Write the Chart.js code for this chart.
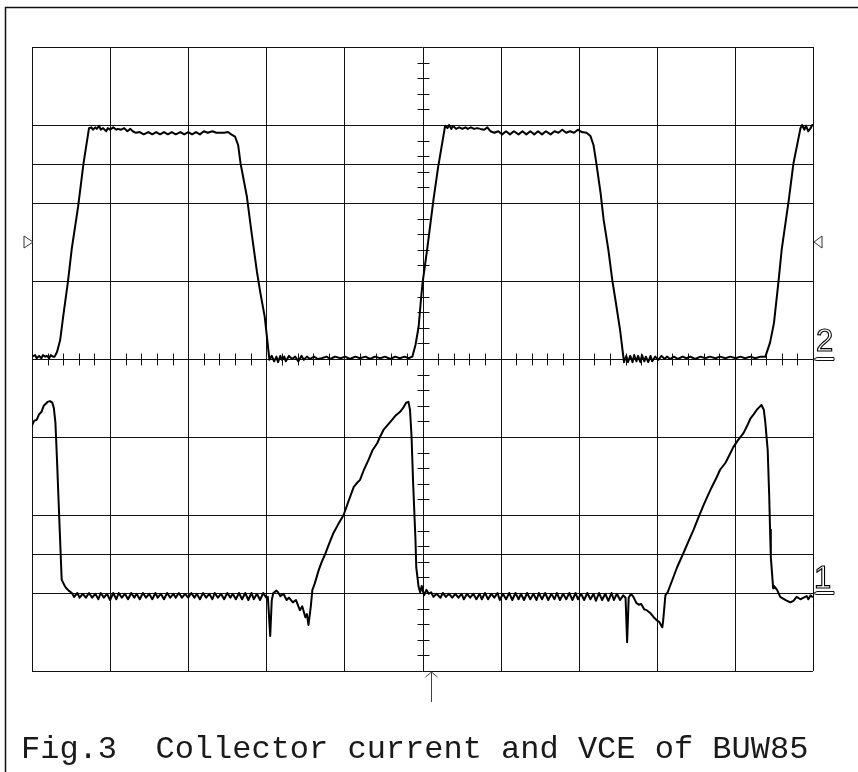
<!DOCTYPE html>
<html>
<head>
<meta charset="utf-8">
<title>Fig.3 Collector current and VCE of BUW85</title>
<script src="https://cdn.jsdelivr.net/npm/chart.js@4"></script>
<style>
  html, body { margin: 0; padding: 0; background: #fff; }
  #wrap { position: relative; width: 858px; height: 772px; overflow: hidden; }
  #scope { position: absolute; left: 0; top: 0; }
  .chan { position: absolute; font-family: "Liberation Sans", Arial, sans-serif; font-size: 31px;
          line-height: 30px; color: transparent; -webkit-text-stroke: 1.1px #000; }
  #caption { position: absolute; left: 21px; top: 734px; font-family: "Liberation Mono", "DejaVu Sans Mono", monospace;
             font-size: 32px; line-height: 32px; color: #1a1a1a; white-space: pre; }
</style>
</head>
<body>
<div id="wrap">
  <canvas id="scope" width="858" height="772"></canvas>
  <span class="chan" style="left:816px; top:326px;">2</span>
  <span class="chan" style="left:814px; top:563px;">1</span>
  <div id="caption">Fig.3  Collector current and VCE of BUW85</div>
</div>
<script>
/*            screen: 10 x 8 divisions            */

const vLines = [0, 1, 2, 3, 4, 5, 6, 7, 8, 9, 10];
const hLines = [0, 1, 1.5, 2, 3, 4, 5, 6, 6.5, 7, 8];
const centerX = 5;
const centerY = 4;
const minorStep = 0.2;
const trigLevel = 5.5;     // the two little triangles
const trigTime = 5.11;     // the arrow under the screen
const ch1Ground = 1.0;
const ch2Ground = 4.0;

/*            channel 2 (collector current)            */

const ch2Time = [
  0.00, 0.04, 0.06, 0.09, 0.12, 0.14, 0.17, 0.19, 0.22, 0.24, 0.27, 0.29,
  0.32, 0.36, 0.40, 0.46, 0.51, 0.59, 0.66, 0.73,
  0.76, 0.78, 0.81, 0.83, 0.86, 0.88, 0.91, 0.95, 0.97, 1.00,
  1.04, 1.08, 1.10, 1.14, 1.18, 1.22, 1.26, 1.29, 1.33, 1.38,
  1.43, 1.49, 1.54, 1.59, 1.64, 1.69, 1.74, 1.79, 1.84, 1.90,
  1.95, 2.00, 2.05, 2.10, 2.15, 2.20, 2.25, 2.31, 2.36, 2.41,
  2.46, 2.51, 2.55,
  2.60, 2.64, 2.67, 2.75, 2.81, 2.88, 2.92, 2.98, 3.04,
  3.07, 3.10, 3.13, 3.15, 3.18, 3.20, 3.23, 3.25, 3.29, 3.33,
  3.37, 3.41, 3.45, 3.48, 3.52, 3.56, 3.61, 3.66, 3.71, 3.77,
  3.82, 3.88, 3.95, 4.01, 4.07, 4.14, 4.20, 4.27, 4.33, 4.39,
  4.46, 4.52, 4.59, 4.65, 4.71, 4.77, 4.82, 4.87,
  4.91, 4.95, 4.98, 5.00, 5.06, 5.14, 5.20, 5.29,
  5.32, 5.34, 5.37, 5.39, 5.43, 5.47, 5.51, 5.55, 5.58, 5.62,
  5.66, 5.70, 5.74, 5.79, 5.83, 5.87, 5.92, 5.97, 6.02, 6.07,
  6.12, 6.17, 6.23, 6.28, 6.33, 6.38, 6.43, 6.48, 6.53, 6.58,
  6.64, 6.69, 6.74, 6.79, 6.84, 6.89, 6.94, 6.99, 7.04, 7.10,
  7.15, 7.19, 7.22, 7.28, 7.32, 7.38, 7.43, 7.47, 7.53, 7.58,
  7.61, 7.63, 7.66, 7.69, 7.71, 7.74, 7.76, 7.79, 7.81, 7.84,
  7.86, 7.89, 7.92, 7.94, 7.98, 8.02, 8.06, 8.10, 8.13, 8.17,
  8.22, 8.27, 8.33, 8.38, 8.43, 8.49, 8.56, 8.62, 8.68, 8.75,
  8.81, 8.88, 8.94, 9.01, 9.07, 9.13, 9.20, 9.26, 9.33, 9.39,
  9.45, 9.50, 9.56, 9.60, 9.69, 9.75, 9.84, 9.86, 9.89, 9.91, 9.94, 9.97, 9.99
];
const ch2Level = [
  4.03, 4.05, 4.01, 4.04, 4.01, 4.05, 4.03, 4.04, 4.01, 4.05, 4.03, 4.03,
  4.09, 4.24, 4.55, 4.99, 5.42, 5.95, 6.51, 6.96,
  6.97, 6.94, 6.97, 6.95, 6.99, 6.94, 6.96, 6.92, 6.96, 6.94,
  6.97, 6.94, 6.95, 6.94, 6.96, 6.92, 6.95, 6.92, 6.90, 6.91,
  6.88, 6.91, 6.88, 6.91, 6.88, 6.91, 6.88, 6.91, 6.88, 6.91,
  6.88, 6.91, 6.88, 6.91, 6.88, 6.92, 6.90, 6.92, 6.90, 6.90,
  6.90, 6.91, 6.88,
  6.85, 6.74, 6.51, 6.09, 5.63, 5.12, 4.87, 4.54, 3.99,
  4.04, 3.97, 4.03, 3.96, 4.04, 3.99, 4.03, 3.97, 4.04, 4.00,
  4.03, 3.97, 4.04, 3.99, 4.03, 4.00, 4.03, 4.00, 4.01, 4.03,
  4.00, 4.03, 4.01, 4.03, 4.00, 4.03, 4.01, 4.03, 4.00, 4.03,
  4.01, 4.03, 4.00, 4.03, 4.01, 4.03, 4.01, 4.03,
  4.18, 4.41, 4.76, 4.97, 5.41, 6.04, 6.46, 6.99,
  6.96, 7.00, 6.95, 6.99, 6.95, 6.97, 6.95, 6.97, 6.95, 6.97,
  6.95, 6.96, 6.95, 6.94, 6.97, 6.92, 6.90, 6.92, 6.88, 6.92,
  6.88, 6.92, 6.88, 6.92, 6.88, 6.92, 6.88, 6.92, 6.88, 6.92,
  6.88, 6.92, 6.90, 6.94, 6.90, 6.92, 6.90, 6.94, 6.91, 6.90,
  6.86, 6.74, 6.55, 6.13, 5.78, 5.40, 5.01, 4.76, 4.37, 3.96,
  4.04, 3.96, 4.04, 3.96, 4.05, 3.97, 4.04, 3.96, 4.05, 3.97,
  4.03, 3.96, 4.04, 3.97, 4.03, 3.99, 4.04, 4.00, 4.03, 4.00,
  4.03, 4.00, 4.03, 4.01, 4.03, 4.00, 4.03, 4.01, 4.03, 4.01,
  4.03, 4.01, 4.03, 4.01, 4.03, 4.01, 4.03, 4.01, 4.03, 4.03,
  4.21, 4.46, 5.01, 5.41, 6.04, 6.51, 6.96, 7.00, 6.94, 6.99, 6.92, 6.96, 7.00
];

/*            channel 1 (VCE)            */

const ch1Time = [
  0.00, 0.03, 0.06, 0.09, 0.12, 0.15, 0.19, 0.20, 0.23, 0.26,
  0.28, 0.30, 0.32, 0.34, 0.36, 0.38, 0.40, 0.42, 0.44, 0.47, 0.51,
  0.54, 0.58, 0.61, 0.65, 0.69, 0.73, 0.77, 0.81, 0.85, 0.88,
  0.92, 0.96, 1.00, 1.04, 1.08, 1.11, 1.15, 1.19, 1.23, 1.27,
  1.31, 1.34, 1.38, 1.42, 1.46, 1.50, 1.54, 1.58, 1.61, 1.65,
  1.69, 1.73, 1.77, 1.81, 1.84, 1.88, 1.92, 1.96, 2.00, 2.04,
  2.08, 2.11, 2.15, 2.19, 2.23, 2.27, 2.31, 2.34, 2.38, 2.42,
  2.46, 2.50, 2.54, 2.57, 2.61, 2.65, 2.69, 2.73, 2.77, 2.81,
  2.84, 2.88, 2.92, 2.96, 3.00,
  3.02, 3.05, 3.07, 3.09, 3.13, 3.15, 3.18, 3.22, 3.26, 3.29,
  3.34, 3.38, 3.43, 3.46, 3.50, 3.52, 3.54,
  3.57, 3.59, 3.62, 3.67, 3.71, 3.75, 3.80, 3.86, 3.92, 3.99,
  4.05, 4.12, 4.16, 4.20, 4.25, 4.31, 4.36, 4.42, 4.46, 4.50,
  4.55, 4.61, 4.66, 4.71, 4.75, 4.79, 4.82, 4.84, 4.86, 4.88,
  4.91, 4.92, 4.95, 4.97, 4.99, 5.02, 5.05, 5.08, 5.11, 5.14,
  5.18,
  5.23, 5.26, 5.30, 5.34, 5.38, 5.42, 5.46, 5.50, 5.53, 5.57,
  5.61, 5.65, 5.69, 5.73, 5.76, 5.80, 5.84, 5.88, 5.92, 5.96,
  5.99, 6.03, 6.07, 6.11, 6.15, 6.19, 6.23, 6.26, 6.30, 6.34,
  6.38, 6.42, 6.46, 6.49, 6.53, 6.57, 6.61, 6.65, 6.69, 6.72,
  6.76, 6.80, 6.84, 6.88, 6.92, 6.96, 6.99, 7.03, 7.07, 7.11,
  7.15, 7.19, 7.22, 7.26, 7.30, 7.34, 7.38, 7.42, 7.45, 7.49,
  7.53, 7.57,
  7.60, 7.62, 7.64, 7.67, 7.70, 7.74, 7.77, 7.80, 7.84, 7.87,
  7.92, 7.96, 8.00, 8.03, 8.07, 8.08, 8.11, 8.14, 8.20, 8.26,
  8.30, 8.34, 8.40, 8.47, 8.53, 8.60, 8.64, 8.70, 8.77, 8.81,
  8.88, 8.93, 8.98, 9.04, 9.11, 9.16, 9.20, 9.24, 9.28, 9.31,
  9.34, 9.37, 9.39, 9.42, 9.44, 9.45, 9.46, 9.49, 9.50, 9.54,
  9.58, 9.65, 9.71, 9.75, 9.79, 9.84, 9.88, 9.92, 9.94, 9.97,
  9.99
];
const ch1Level = [
  3.15, 3.21, 3.22, 3.29, 3.32, 3.40, 3.44, 3.45, 3.46, 3.44,
  3.37, 3.18, 2.71, 2.19, 1.68, 1.17, 1.13, 1.09, 1.06, 1.03, 1.00,
  0.95, 1.00, 0.94, 0.99, 0.94, 1.00, 0.94, 0.99, 0.92, 1.00,
  0.94, 0.99, 0.91, 1.00, 0.92, 1.00, 0.94, 0.99, 0.92, 1.00,
  0.94, 0.99, 0.92, 1.00, 0.94, 0.99, 0.92, 1.00, 0.94, 0.99,
  0.92, 1.00, 0.94, 0.99, 0.94, 1.00, 0.94, 0.99, 0.94, 1.00,
  0.94, 0.99, 0.92, 1.00, 0.94, 0.99, 0.92, 1.00, 0.94, 0.99,
  0.92, 1.00, 0.94, 0.99, 0.92, 1.00, 0.92, 1.00, 0.91, 1.00,
  0.92, 0.99, 0.91, 1.00, 0.94,
  0.95, 0.45, 0.91, 1.00, 1.03, 1.01, 0.96, 0.99, 0.91, 0.94,
  0.88, 0.91, 0.78, 0.83, 0.69, 0.73, 0.59,
  0.83, 1.04, 1.12, 1.29, 1.40, 1.49, 1.62, 1.77, 1.88, 2.00,
  2.17, 2.36, 2.41, 2.45, 2.58, 2.71, 2.83, 2.92, 3.01, 3.09,
  3.15, 3.22, 3.28, 3.32, 3.37, 3.44, 3.45, 3.35, 3.00, 2.41,
  1.68, 1.33, 1.08, 1.01, 1.09, 0.97, 1.04, 0.99, 1.01, 0.95,
  0.99,
  0.94, 1.00, 0.95, 0.99, 0.94, 0.99, 0.94, 0.99, 0.92, 0.99,
  0.94, 0.99, 0.92, 0.99, 0.92, 1.00, 0.92, 0.99, 0.94, 1.00,
  0.91, 0.99, 0.92, 1.00, 0.91, 1.00, 0.92, 0.99, 0.91, 1.00,
  0.92, 0.99, 0.91, 1.00, 0.92, 1.00, 0.91, 0.99, 0.92, 1.00,
  0.91, 0.99, 0.92, 1.00, 0.91, 1.00, 0.92, 0.99, 0.91, 1.00,
  0.92, 0.99, 0.90, 1.00, 0.91, 0.99, 0.90, 1.00, 0.91, 0.99,
  0.91, 0.97,
  0.94, 0.37, 0.94, 0.99, 0.95, 0.87, 0.85, 0.86, 0.79, 0.78,
  0.74, 0.69, 0.65, 0.63, 0.56, 0.63, 0.97, 1.01, 1.17, 1.33,
  1.42, 1.51, 1.65, 1.81, 1.96, 2.13, 2.22, 2.35, 2.49, 2.58,
  2.67, 2.77, 2.87, 2.96, 3.05, 3.15, 3.24, 3.29, 3.35, 3.38,
  3.41, 3.35, 3.18, 2.83, 2.22, 1.81, 1.46, 1.06, 1.09, 1.04,
  0.95, 0.91, 0.88, 0.90, 0.95, 0.92, 0.94, 0.96, 0.92, 0.97,
  0.95
];

function toPoints(ts, vs) {
    let n = Math.min(ts.length, vs.length);
    let pts = [];
    for (let i = 0; i < n; i++) pts.push({ x: ts[i], y: vs[i] });
    return pts;
}

/*            graticule + scope furniture            */

const graticule = {
    id: 'graticule',
    beforeDatasetsDraw(chart) {
        const c = chart.ctx;
        const sx = chart.scales.x, sy = chart.scales.y;
        const top = sy.getPixelForValue(8), bot = sy.getPixelForValue(0);
        const left = sx.getPixelForValue(0), right = sx.getPixelForValue(10);
        c.save();
        c.strokeStyle = '#111';
        c.lineWidth = 1;
        c.beginPath();
        vLines.forEach(v => {
            let p = Math.round(sx.getPixelForValue(v)) + 0.5;
            c.moveTo(p, top); c.lineTo(p, bot);
        });
        hLines.forEach(v => {
            let p = Math.round(sy.getPixelForValue(v)) + 0.5;
            c.moveTo(left, p); c.lineTo(right, p);
        });
        // minor ticks on the two centre lines
        let cx = Math.round(sx.getPixelForValue(centerX)) + 0.5;
        let cy = Math.round(sy.getPixelForValue(centerY)) + 0.5;
        for (let t = minorStep; t < 10; t += minorStep) {
            let p = Math.round(sx.getPixelForValue(t)) + 0.5;
            c.moveTo(p, cy - 6); c.lineTo(p, cy + 6);
        }
        for (let t = minorStep; t < 8; t += minorStep) {
            let p = Math.round(sy.getPixelForValue(t)) + 0.5;
            c.moveTo(cx - 6, p); c.lineTo(cx + 6, p);
        }
        c.stroke();
        c.restore();
    },
    afterDraw(chart) {
        const c = chart.ctx;
        const sx = chart.scales.x, sy = chart.scales.y;
        const left = sx.getPixelForValue(0), right = sx.getPixelForValue(10);
        const bot = sy.getPixelForValue(0);
        c.save();
        // outer frame (top + left)
        c.strokeStyle = '#111';
        c.lineWidth = 1.5;
        c.beginPath();
        c.moveTo(5.5, 772); c.lineTo(5.5, 7.5); c.lineTo(858, 7.5);
        c.stroke();

        // trigger level triangles
        c.lineWidth = 1;
        c.strokeStyle = '#333';
        let ty = sy.getPixelForValue(trigLevel);
        c.beginPath();
        c.moveTo(left - 8, ty - 6); c.lineTo(left + 1, ty); c.lineTo(left - 8, ty + 6); c.closePath();
        c.moveTo(right + 9, ty - 6); c.lineTo(right + 1, ty); c.lineTo(right + 9, ty + 6); c.closePath();
        c.stroke();

        // ground markers under the channel numbers
        c.strokeStyle = '#111';
        [ch2Ground, ch1Ground].forEach(g => {
            let gy = Math.round(sy.getPixelForValue(g));
            c.beginPath();
            c.moveTo(right, gy + 0.5); c.lineTo(right + 4, gy - 1.5); c.lineTo(right + 21, gy - 1.5);
            c.lineTo(right + 21, gy + 1.5); c.lineTo(right + 4, gy + 1.5); c.closePath();
            c.stroke();
        });

        // trigger position arrow
        let ax = Math.round(sx.getPixelForValue(trigTime)) + 0.5;
        c.strokeStyle = '#444';
        c.beginPath();
        c.moveTo(ax, bot + 1); c.lineTo(ax, bot + 31);
        c.moveTo(ax - 6, bot + 6); c.lineTo(ax, bot + 1); c.lineTo(ax + 6, bot + 6);
        c.stroke();
        c.restore();
    }
};

let ctx = document.getElementById('scope').getContext('2d');
let chart = new Chart(ctx, {
    type: 'scatter',
    data: {
        datasets: [{
            label: 'CH2 collector current',
            data: toPoints(ch2Time, ch2Level),
            showLine: true,
            borderColor: '#000',
            borderWidth: 2,
            pointRadius: 0,
            tension: 0
        }, {
            label: 'CH1 VCE',
            data: toPoints(ch1Time, ch1Level),
            showLine: true,
            borderColor: '#000',
            borderWidth: 2,
            pointRadius: 0,
            tension: 0
        }]
    },
    options: {
        responsive: false,
        animation: false,
        layout: { padding: { left: 32, top: 47, right: 45, bottom: 101 } },
        plugins: { legend: { display: false }, tooltip: { enabled: false } },
        scales: {
            x: { type: 'linear', min: 0, max: 10, display: false },
            y: { type: 'linear', min: 0, max: 8, display: false }
        },
        elements: { line: { borderJoinStyle: 'round', borderCapStyle: 'round' } }
    },
    plugins: [graticule]
});
</script>
</body>
</html>
